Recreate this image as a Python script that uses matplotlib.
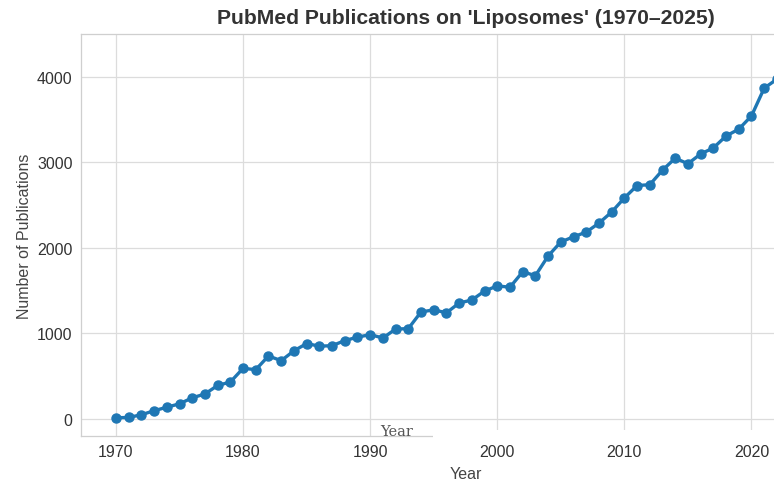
import matplotlib
matplotlib.use("Agg")
import matplotlib.pyplot as plt
from matplotlib.patches import Rectangle

years = list(range(1970, 2026))
counts = [12, 15, 47, 94, 135, 175, 245, 290, 390, 430,
          590, 575, 735, 680, 795, 880, 850, 855, 915, 955,
          985, 945, 1050, 1055, 1250, 1275, 1240, 1355, 1390, 1495,
          1555, 1540, 1720, 1675, 1905, 2070, 2130, 2185, 2290, 2420,
          2585, 2730, 2740, 2910, 3050, 2985, 3100, 3170, 3310, 3390,
          3545, 3870, 3975, 4120, 4290, 4150]

title = "PubMed Publications on 'Liposomes' (1970\u20132025)"
xlabel = "Year"
ylabel = "Number of Publications"

plt.rcParams['font.family'] = ['Liberation Sans', 'DejaVu Sans']

W, H = 774, 481
fig = plt.figure(figsize=(W / 100, H / 100), dpi=100)
fig.patch.set_facecolor('white')

# axes extends beyond right edge of the figure (cropped like the reference)
left, right, top, bottom = 81, 850, 35, 437
ax = fig.add_axes([left / W, 1 - bottom / H, (right - left) / W, (bottom - top) / H])
ax.set_facecolor('white')

ax.plot(years, counts, color='#1f77b4', lw=2.4, marker='o', ms=6.5, zorder=3)

ax.grid(True, color='#dcdcdc', lw=0.9)
ax.set_axisbelow(True)
for s in ax.spines.values():
    s.set_color('#cfcfcf')
    s.set_linewidth(0.9)
ax.tick_params(axis='both', length=0, labelsize=11.5, colors='#333333', pad=6)
ax.set_xticks([1970, 1980, 1990, 2000, 2010, 2020])
ax.set_yticks([0, 1000, 2000, 3000, 4000])

ax.set_title(title, fontsize=15.2, fontweight='bold', color='#333333', pad=8)
ax.set_xlabel(xlabel, fontsize=11.5, color='#444444', labelpad=5)
ax.set_ylabel(ylabel, fontsize=11.5, color='#444444', labelpad=3.5)

# patch artifact near the bottom: white strip and serif label
fig.patches.append(Rectangle((433 / W, 1 - 442 / H), (W - 433) / W, 11 / H,
                             transform=fig.transFigure, facecolor='white',
                             edgecolor='none', zorder=5))
fig.text(397 / W, 1 - 432 / H, "Year", family='DejaVu Serif', fontsize=10.5,
         color='#555555', ha='center', va='center', zorder=6)

fig.savefig('out.png', dpi=100)
